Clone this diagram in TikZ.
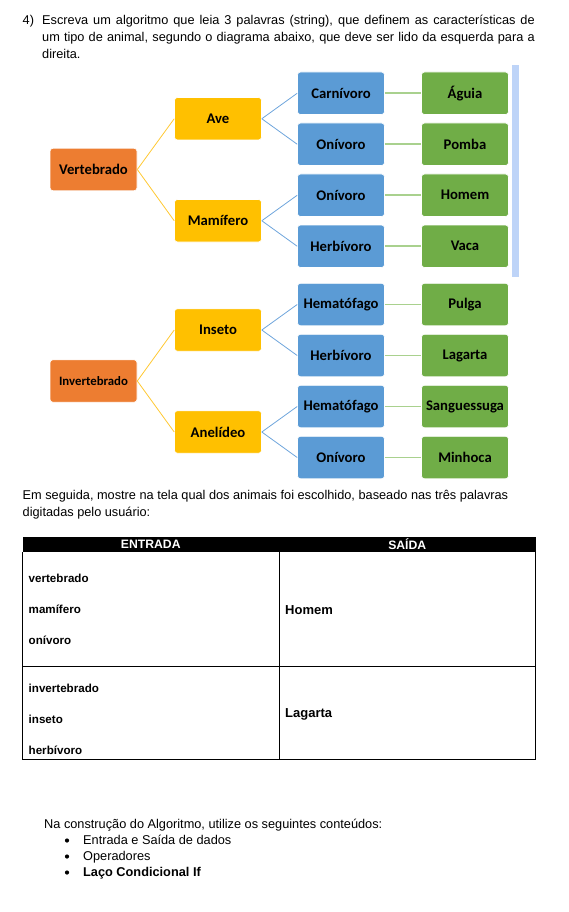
\documentclass[tikz,border=0pt]{standalone}
\usepackage{fontspec}
\setmainfont{Liberation Sans}
\newfontfamily\boxfont{Carlito}
\definecolor{orng}{RGB}{237,125,49}
\definecolor{yel}{RGB}{255,192,0}
\definecolor{blu}{RGB}{91,155,213}
\definecolor{grn}{RGB}{112,173,71}
\definecolor{yline}{RGB}{255,200,50}
\definecolor{bline}{RGB}{110,165,220}
\definecolor{gline}{RGB}{169,209,142}
\definecolor{barblue}{RGB}{190,212,248}
\tikzset{
  box/.style={rounded corners=3pt, draw=white, line width=0.6pt,
    minimum width=87pt, minimum height=42.5pt, inner sep=0pt, text=black,
    font=\boxfont\bfseries\fontsize{14.7}{16}\selectfont},
  obox/.style={box, fill=orng},
  ybox/.style={box, fill=yel},
  bbox/.style={box, fill=blu},
  gbox/.style={box, fill=grn},
  yl/.style={draw=yline, line width=0.8pt},
  bl/.style={draw=bline, line width=0.8pt},
  gl/.style={draw=gline, line width=1.6pt},
  txt/.style={anchor=base west, inner sep=0pt, font=\fontsize{12.75}{15}\selectfont},
  celltxt/.style={anchor=base west, inner sep=0pt, font=\bfseries\fontsize{11.6}{14}\selectfont},
  outtxt/.style={anchor=base west, inner sep=0pt, font=\bfseries\fontsize{13}{15}\selectfont},
  headtxt/.style={inner sep=0pt, text=white, font=\bfseries\fontsize{12.2}{14}\selectfont},
  tline/.style={draw=black, line width=0.8pt},
}
\begin{document}
\begin{tikzpicture}[x=1pt,y=-1pt]
\useasboundingbox (0,0) rectangle (569,912);
% title
\node[txt] (num) at (22.5,25) {4)};
\node[txt] (t1) at (42,25) {\makebox[492.5pt][s]{Escreva um algoritmo que leia 3 palavras (string), que definem as características de}};
\node[txt] (t2) at (42,42) {\makebox[492.5pt][s]{um tipo de animal, segundo o diagrama abaixo, que deve ser lido da esquerda para a}};
\node[txt] (t3) at (42,59) {direita.};
% bar
\fill[barblue] (512,65) rectangle (519,277);
% vertebrado tree
\node[obox] (vert) at (93.5,169.5) {Vertebrado};
\node[ybox] (ave) at (218,118.75) {Ave};
\node[ybox] (mam) at (218,220.75) {Mamífero};
\node[bbox] (carn) at (341,93.25) {Carnívoro};
\node[bbox] (oni1) at (341,144.25) {Onívoro};
\node[bbox] (oni2) at (341,195.25) {Onívoro};
\node[bbox] (herb1) at (341,246.25) {Herbívoro};
\node[gbox] (aguia) at (465,93.25) {Águia};
\node[gbox] (pomba) at (465,144.25) {Pomba};
\node[gbox] (homem) at (465,195.25) {Homem};
\node[gbox] (vaca) at (465,246.25) {Vaca};
\draw[yl] (vert.east) -- (ave.west);
\draw[yl] (vert.east) -- (mam.west);
\draw[bl] (ave.east) -- (carn.west);
\draw[bl] (ave.east) -- (oni1.west);
\draw[bl] (mam.east) -- (oni2.west);
\draw[bl] (mam.east) -- (herb1.west);
\draw[gl] (carn.east) -- (aguia.west);
\draw[gl] (oni1.east) -- (pomba.west);
\draw[gl] (oni2.east) -- (homem.west);
\draw[gl] (herb1.east) -- (vaca.west);
% invertebrado tree
\node[obox, font=\boxfont\bfseries\fontsize{12.8}{14}\selectfont] (inv) at (93.5,381) {Invertebrado};
\node[ybox] (ins) at (218,330) {Inseto};
\node[ybox] (ane) at (218,432) {Anelídeo};
\node[bbox] (hem1) at (341,304.5) {Hematófago};
\node[bbox] (herb2) at (341,355.5) {Herbívoro};
\node[bbox] (hem2) at (341,406.5) {Hematófago};
\node[bbox] (oni3) at (341,457.5) {Onívoro};
\node[gbox] (pulga) at (465,304.5) {Pulga};
\node[gbox] (lagarta) at (465,355.5) {Lagarta};
\node[gbox] (sang) at (465,406.5) {Sanguessuga};
\node[gbox] (minh) at (465,457.5) {Minhoca};
\draw[yl] (inv.east) -- (ins.west);
\draw[yl] (inv.east) -- (ane.west);
\draw[bl] (ins.east) -- (hem1.west);
\draw[bl] (ins.east) -- (herb2.west);
\draw[bl] (ane.east) -- (hem2.west);
\draw[bl] (ane.east) -- (oni3.west);
\draw[gl] (hem1.east) -- (pulga.west);
\draw[gl] (herb2.east) -- (lagarta.west);
\draw[gl] (hem2.east) -- (sang.west);
\draw[gl] (oni3.east) -- (minh.west);
% middle text
\node[txt] (m1) at (22.5,499) {Em seguida, mostre na tela qual dos animais foi escolhido, baseado nas três palavras};
\node[txt] (m2) at (22.5,516) {digitadas pelo usuário:};
% table
\fill[black] (22.5,536.5) rectangle (535.5,552);
\draw[tline] (22.5,552) -- (22.5,759) -- (535.5,759) -- (535.5,552);
\draw[tline] (279,552) -- (279,759);
\draw[tline] (22.5,666) -- (535.5,666);
\node[headtxt] (h1) at (150.75,544.5) {ENTRADA};
\node[headtxt] (h2) at (407.25,544.5) {SAÍDA};
\node[celltxt] (c1) at (28.5,582) {vertebrado};
\node[celltxt] (c2) at (28.5,613) {mamífero};
\node[celltxt] (c3) at (28.5,644) {onívoro};
\node[celltxt] (c4) at (28.5,692) {invertebrado};
\node[celltxt] (c5) at (28.5,723) {inseto};
\node[celltxt] (c6) at (28.5,754) {herbívoro};
\node[outtxt] (o1) at (285,614) {Homem};
\node[outtxt] (o2) at (285,717) {Lagarta};
% bottom
\node[txt] (b0) at (44,828) {Na construção do Algoritmo, utilize os seguintes conteúdos:};
\fill (67,840.5) circle (2.1pt);
\fill (67,856.5) circle (2.1pt);
\fill (67,872.5) circle (2.1pt);
\node[txt] (b1) at (83,844.5) {Entrada e Saída de dados};
\node[txt] (b2) at (83,860.5) {Operadores};
\node[txt, font=\bfseries\fontsize{12.75}{15}\selectfont] (b3) at (83,876.5) {Laço Condicional If};
\end{tikzpicture}
\end{document}
